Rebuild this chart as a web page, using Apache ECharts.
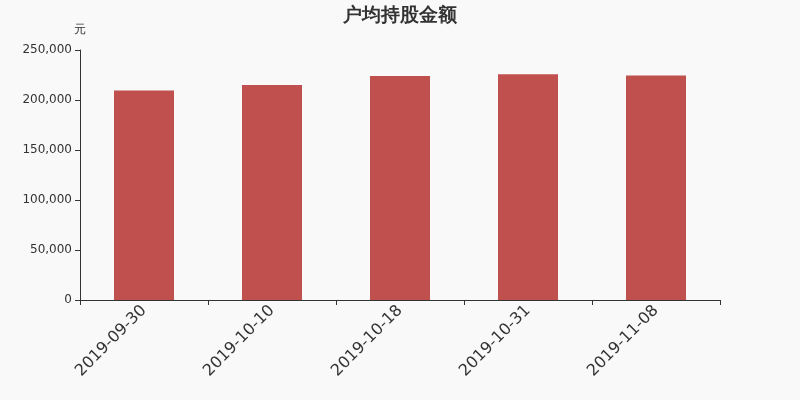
<!DOCTYPE html>
<html>
<head>
<meta charset="utf-8">
<script src="https://cdn.jsdelivr.net/npm/echarts@6/dist/echarts.min.js"></script>
<style>
  html, body { margin: 0; padding: 0; background: #f9f9f9; }
  #chart { width: 800px; height: 400px; }
</style>
</head>
<body>
<div id="chart"></div>
<script>
// 户均持股金额 数据
const dates = ['2019-09-30', '2019-10-10', '2019-10-18', '2019-10-31', '2019-11-08'];
const amounts = [209600, 215000, 224000, 225700, 224600];
const yTicks = { min: 0, max: 250000, interval: 50000 };

const chart = echarts.init(document.getElementById('chart'));
chart.setOption({
    backgroundColor: '#f9f9f9',
    animation: false,
    textStyle: { fontFamily: 'DejaVu Sans, sans-serif' },
    title: {
        text: '户均持股金额',
        left: 'center',
        top: 2,
        textStyle: { fontSize: 19, fontWeight: 'bold', color: '#333' }
    },
    grid: { left: 80, right: 80, top: 50, bottom: 100 },
    xAxis: {
        type: 'category',
        data: dates,
        axisLine: { lineStyle: { color: '#333' } },
        axisTick: { show: true, alignWithLabel: false },
        axisLabel: { color: '#333', fontSize: 16, rotate: 45, margin: 8 }
    },
    yAxis: {
        type: 'value',
        name: '元',
        nameGap: 14,
        nameTextStyle: { color: '#333', fontSize: 12, align: 'center' },
        min: yTicks.min,
        max: yTicks.max,
        interval: yTicks.interval,
        splitLine: { show: false },
        axisLine: { show: true, lineStyle: { color: '#333' } },
        axisTick: { show: true },
        axisLabel: { color: '#333', fontSize: 12 }
    },
    series: [{
        type: 'bar',
        data: amounts,
        barWidth: 60,
        itemStyle: { color: '#c0504d' }
    }]
});
</script>
</body>
</html>
